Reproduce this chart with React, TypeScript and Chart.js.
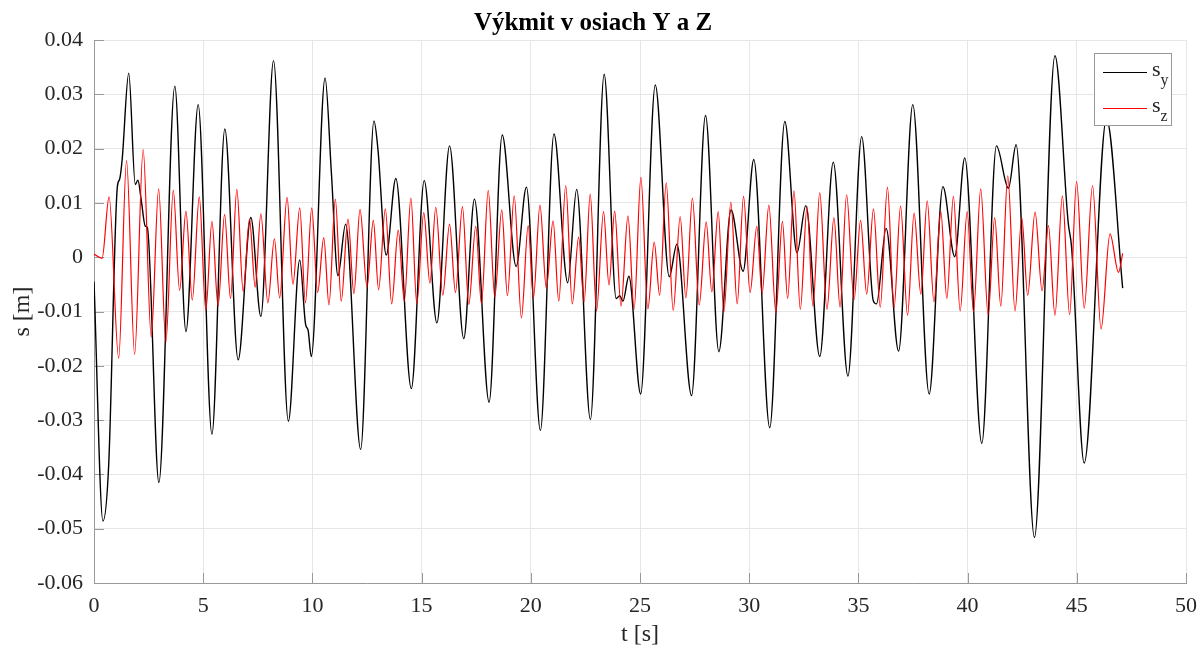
import { useEffect, useRef } from "react";
import { Chart, registerables } from "chart.js";

Chart.register(...registerables);

const FONT = "'Liberation Serif', 'Times New Roman', serif";

const chartTitle = "Výkmit v osiach Y a Z";
const xAxisTitle = "t [s]";
const yAxisTitle = "s [m]";

const xMin = 0;
const xMax = 50;
const xStep = 5;
const yMin = -0.06;
const yMax = 0.04;
const yStep = 0.01;

// s_y (black) – turning points
const syTime = [
  0.0, 0.41, 0.67, 1.07, 1.17, 1.29, 1.59, 1.89, 2.01, 2.16, 2.35, 2.44, 2.97, 3.7, 4.21, 4.77, 5.4, 5.99, 6.6,
  7.18, 7.64, 8.22, 8.9, 9.42, 9.69, 9.8, 9.95, 10.58, 10.87, 11.17, 11.52, 12.21, 12.82, 13.0, 13.38, 13.82,
  14.53, 15.12, 15.7, 16.28, 16.93, 17.42, 18.09, 18.69, 19.33, 19.8, 20.44, 21.06, 21.69, 22.1, 22.73, 23.36,
  23.91, 24.07, 24.22, 24.49, 25.03, 25.7, 26.34, 26.69, 27.36, 28.0, 28.61, 29.17, 29.72, 30.21, 30.94, 31.63,
  32.19, 32.59, 33.23, 33.85, 34.52, 35.15, 35.68, 35.83, 36.27, 36.84, 37.49, 38.24, 38.87, 39.41, 39.87, 40.65,
  41.32, 41.87, 42.22, 43.06, 44.0, 44.61, 44.76, 45.34, 46.36, 47.1,
];
const syValue = [
  -0.0045, -0.0486, -0.0385, 0.013, 0.0143, 0.018, 0.0339, 0.0134, 0.0142, 0.0106, 0.0057, 0.0055, -0.0415, 0.0315,
  -0.0137, 0.0281, -0.0326, 0.0236, -0.0189, 0.0073, -0.0109, 0.0362, -0.0302, -0.0005, -0.0124, -0.0134, -0.0183,
  0.033, 0.0155, -0.0034, 0.0061, -0.0354, 0.0251, 0.0199, 0.0004, 0.0145, -0.0242, 0.0141, -0.0121, 0.0205,
  -0.015, 0.0107, -0.0267, 0.0225, -0.0017, 0.0129, -0.0319, 0.0227, -0.0047, 0.0125, -0.0299, 0.0337, -0.0076,
  -0.0071, -0.0081, -0.0035, -0.0252, 0.0317, -0.0036, 0.0024, -0.0255, 0.0261, -0.0174, 0.0087, -0.0026, 0.018,
  -0.0314, 0.025, 0.0008, 0.0095, -0.0183, 0.0175, -0.0219, 0.0222, -0.008, -0.0086, 0.0053, -0.0173, 0.0281,
  -0.0252, 0.013, 0.0001, 0.0183, -0.0343, 0.0205, 0.0127, 0.0207, -0.0516, 0.0371, 0.0062, 0.0019, -0.0379,
  0.0255, -0.0057,
];

// s_z (red) – turning points
const szTime = [
  0.0, 0.37, 0.69, 1.13, 1.49, 1.86, 2.25, 2.62, 2.96, 3.29, 3.63, 3.92, 4.21, 4.5, 4.82, 5.12, 5.4, 5.68, 5.98,
  6.25, 6.54, 6.83, 7.12, 7.38, 7.64, 7.96, 8.26, 8.5, 8.84, 9.11, 9.42, 9.68, 9.97, 10.24, 10.52, 10.76, 11.05,
  11.32, 11.63, 11.9, 12.18, 12.5, 12.79, 13.03, 13.34, 13.63, 13.93, 14.21, 14.51, 14.78, 15.1, 15.38, 15.65,
  15.97, 16.28, 16.55, 16.87, 17.16, 17.48, 17.74, 18.05, 18.35, 18.67, 18.93, 19.24, 19.57, 19.88, 20.12, 20.42,
  20.71, 21.02, 21.28, 21.6, 21.9, 22.19, 22.44, 22.72, 23.01, 23.33, 23.58, 23.84, 24.13, 24.45, 24.73, 25.04,
  25.36, 25.65, 25.9, 26.2, 26.52, 26.84, 27.1, 27.4, 27.71, 28.03, 28.29, 28.58, 28.84, 29.16, 29.45, 29.74,
  30.04, 30.35, 30.59, 30.9, 31.22, 31.52, 31.76, 32.05, 32.34, 32.65, 32.92, 33.23, 33.56, 33.88, 34.16, 34.46,
  34.8, 35.1, 35.38, 35.69, 36.0, 36.33, 36.63, 36.93, 37.25, 37.55, 37.86, 38.15, 38.46, 38.77, 39.05, 39.35,
  39.66, 39.98, 40.27, 40.6, 40.94, 41.24, 41.52, 41.84, 42.17, 42.48, 42.75, 43.09, 43.41, 43.7, 44.0, 44.34,
  44.67, 44.99, 45.34, 45.72, 46.11, 46.52, 46.91, 47.1,
];
const szValue = [
  0.0006, -0.0002, 0.0111, -0.0186, 0.0178, -0.0179, 0.0198, -0.0147, 0.0126, -0.0157, 0.0123, -0.0061, 0.0085,
  -0.0079, 0.0111, -0.0098, 0.0066, -0.009, 0.0079, -0.0076, 0.0125, -0.0063, 0.007, -0.0055, 0.008, -0.0084,
  0.0034, -0.0075, 0.011, -0.005, 0.0091, -0.0084, 0.0091, -0.0065, 0.0036, -0.0088, 0.0107, -0.0081, 0.007,
  -0.0067, 0.0088, -0.0055, 0.0068, -0.006, 0.0089, -0.0086, 0.005, -0.0081, 0.0109, -0.0086, 0.0082, -0.0048,
  0.0092, -0.007, 0.0061, -0.0065, 0.0093, -0.0087, 0.0057, -0.0086, 0.0123, -0.0073, 0.0087, -0.0071, 0.0113,
  -0.0112, 0.0058, -0.0075, 0.0096, -0.0057, 0.0067, -0.0081, 0.0132, -0.0086, 0.0037, -0.0083, 0.0116, -0.0099,
  0.0084, -0.0051, 0.0085, -0.009, 0.0076, -0.0096, 0.0147, -0.0095, 0.0028, -0.007, 0.0137, -0.0098, 0.0075,
  -0.0075, 0.0109, -0.0088, 0.0065, -0.0064, 0.0084, -0.0101, 0.0101, -0.0086, 0.0112, -0.0065, 0.0057, -0.0067,
  0.0096, -0.0102, 0.0066, -0.0076, 0.0122, -0.0096, 0.0093, -0.009, 0.0119, -0.0096, 0.0073, -0.0092, 0.0115,
  -0.0078, 0.0068, -0.0068, 0.0089, -0.0092, 0.0129, -0.0094, 0.0094, -0.0107, 0.0081, -0.0068, 0.0104, -0.0082,
  0.0085, -0.0076, 0.0112, -0.0099, 0.0084, -0.0101, 0.0126, -0.0106, 0.0073, -0.009, 0.015, -0.0099, 0.0073,
  -0.007, 0.0083, -0.0062, 0.0058, -0.0107, 0.0113, -0.0106, 0.0139, -0.0094, 0.0132, -0.0132, 0.0043, -0.0028,
  0.0007,
];

const seriesNames = ["s", "s"];
const seriesSubs = ["y", "z"];
const seriesColors = ["#000000", "#ff0000"];

const toPoints = (ts: number[], vs: number[]) => ts.map((t, i) => ({ x: t, y: vs[i] }));

const AXIS_COLOR = "#999999";
const TEXT_COLOR = "#262626";

const inwardTicks = {
  id: "inwardTicks",
  beforeDatasetsDraw(chart: any) {
    const { ctx, chartArea, scales } = chart;
    const { left, bottom } = chartArea;
    ctx.save();
    ctx.strokeStyle = AXIS_COLOR;
    ctx.lineWidth = 1;
    ctx.beginPath();
    scales.y.ticks.forEach((t: any) => {
      const py = Math.round(scales.y.getPixelForValue(t.value)) + 0.5;
      ctx.moveTo(left, py);
      ctx.lineTo(left + 10, py);
    });
    scales.x.ticks.forEach((t: any) => {
      const px = Math.round(scales.x.getPixelForValue(t.value)) + 0.5;
      ctx.moveTo(px, bottom);
      ctx.lineTo(px, bottom - 10);
    });
    ctx.stroke();
    ctx.restore();
  },
};

const subLegend = {
  id: "subLegend",
  afterDraw(chart: any) {
    const { ctx, chartArea } = chart;
    const boxW = 78;
    const boxH = 73;
    const x0 = Math.round(chartArea.right - 14 - boxW);
    const y0 = Math.round(chartArea.top + 13);
    ctx.save();
    ctx.fillStyle = "#ffffff";
    ctx.fillRect(x0, y0, boxW, boxH);
    ctx.strokeStyle = AXIS_COLOR;
    ctx.lineWidth = 1;
    ctx.strokeRect(x0 + 0.5, y0 + 0.5, boxW - 1, boxH - 1);
    seriesNames.forEach((name, i) => {
      const cy = y0 + 19 + i * 36;
      ctx.strokeStyle = seriesColors[i];
      ctx.lineWidth = 1.2;
      ctx.beginPath();
      ctx.moveTo(x0 + 9, cy + 0.5);
      ctx.lineTo(x0 + 53, cy + 0.5);
      ctx.stroke();
      ctx.fillStyle = TEXT_COLOR;
      ctx.textBaseline = "alphabetic";
      ctx.textAlign = "left";
      ctx.font = `22px ${FONT}`;
      ctx.fillText(name, x0 + 58, cy + 4);
      const w = ctx.measureText(name).width;
      ctx.font = `16px ${FONT}`;
      ctx.fillText(seriesSubs[i], x0 + 58 + w, cy + 13);
    });
    ctx.restore();
  },
};

export default function App() {
  const canvasRef = useRef<HTMLCanvasElement | null>(null);

  useEffect(() => {
    document.body.style.margin = "0";
    const canvas = canvasRef.current;
    if (!canvas) return;
    const chart = new Chart(canvas, {
      type: "line",
      data: {
        datasets: [
          {
            label: "s_y",
            data: toPoints(syTime, syValue),
            borderColor: seriesColors[0],
            borderWidth: 1.4,
            pointRadius: 0,
            cubicInterpolationMode: "monotone",
            fill: false,
            order: 1,
          },
          {
            label: "s_z",
            data: toPoints(szTime, szValue),
            borderColor: seriesColors[1],
            borderWidth: 1.2,
            pointRadius: 0,
            cubicInterpolationMode: "monotone",
            fill: false,
            order: 0,
          },
        ],
      },
      options: {
        animation: false,
        responsive: true,
        maintainAspectRatio: false,
        layout: { padding: { left: 0, right: 16, top: 0, bottom: 0 } },
        plugins: {
          legend: { display: false },
          tooltip: { enabled: false },
          title: {
            display: true,
            text: chartTitle,
            color: "#000000",
            font: { family: FONT, size: 25, weight: "bold" },
            padding: { top: 9, bottom: 1 },
          },
        },
        scales: {
          x: {
            type: "linear",
            min: xMin,
            max: xMax,
            ticks: {
              stepSize: xStep,
              color: TEXT_COLOR,
              font: { family: FONT, size: 22 },
              padding: 10,
              maxRotation: 0,
            },
            grid: { color: "#e6e6e6", drawTicks: false, lineWidth: 1 },
            border: { color: AXIS_COLOR, width: 1 },
            title: {
              display: true,
              text: xAxisTitle,
              color: TEXT_COLOR,
              font: { family: FONT, size: 24 },
              padding: { top: 0, bottom: 1 },
            },
            afterFit: (s: any) => {
              s.height = 67;
              s.paddingRight = 0;
              s.paddingLeft = 0;
            },
          },
          y: {
            type: "linear",
            min: yMin,
            max: yMax,
            ticks: {
              stepSize: yStep,
              color: TEXT_COLOR,
              font: { family: FONT, size: 22 },
              padding: 11,
              callback: (v: any) => {
                const n = Number(v);
                if (Math.abs(n) < 1e-9) return "0";
                return n.toFixed(2);
              },
            },
            grid: { color: "#e6e6e6", drawTicks: false, lineWidth: 1 },
            border: { color: AXIS_COLOR, width: 1 },
            title: {
              display: true,
              text: yAxisTitle,
              color: TEXT_COLOR,
              font: { family: FONT, size: 24 },
              padding: { top: 8, bottom: 0 },
            },
            afterFit: (s: any) => {
              s.width = 94;
            },
          },
        },
      },
      plugins: [inwardTicks, subLegend],
    });
    return () => chart.destroy();
  }, []);

  return (
    <div style={{ width: "1202px", height: "650px", position: "relative", background: "#ffffff" }}>
      <canvas ref={canvasRef} />
    </div>
  );
}
